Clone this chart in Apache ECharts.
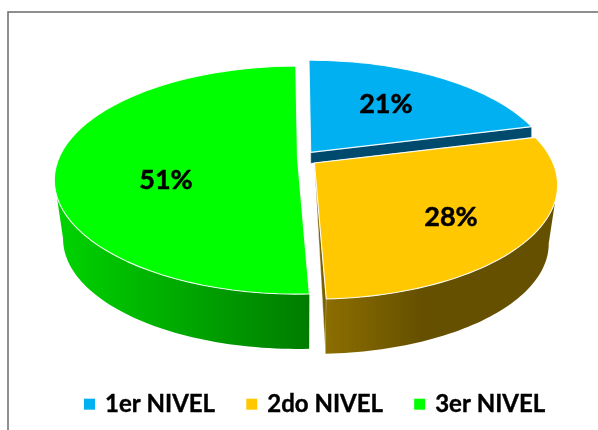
<!DOCTYPE html>
<html><head><meta charset="utf-8">
<style>html,body{margin:0;padding:0;background:#fff}#c{width:598px;height:430px}</style>
<script src="https://cdn.jsdelivr.net/npm/echarts@6/dist/echarts.min.js"></script>
</head><body><div id="c"></div>
<script>
const categories = ['1er NIVEL', '2do NIVEL', '3er NIVEL'];
const values = [21.2, 28.3, 50.5];
const topColors = ['#00b0f0', '#ffc800', '#00ff00'];

// layout of the tilted disc
const CX = 304, CY = 158, A = 238.6, B = 109.8, K = 0.193, DEPTH = 59.5, SHRINK = 0.965, ROT = -0.5;
const TOP_WINDOW = [109, 251], BOTTOM_WINDOW = [101, 259];
const explode = [11, 13, 6.5];
const labelR = [0.56, 0.66, 0.55];
const labelDy = [-3, 7, 21];
const cutColors = ['#004a6e', '#7a6000', null];
const cutDepth = [11, 0, 0];
const wallStops = [
  [[0, '#006a9a'], [1, '#004a6e']],
  [[0, '#8c6e00'], [0.42, '#655000'], [1, '#655000']],
  [[0, '#00d400'], [1, '#007c00']]
];

const total = values.reduce((a, b) => a + b, 0);
function proj(tDeg, r) {
  const t = tDeg * Math.PI / 180, u = Math.sin(t) * r, v = -Math.cos(t) * r, w = 1 - K * v;
  return [A * u / w, B * v / w];
}
function sliceAngles(i) {
  const before = values.slice(0, i).reduce((a, b) => a + b, 0);
  return [ROT + before / total * 360, ROT + (before + values[i]) / total * 360];
}
function arc(fn, a, b) {
  const out = [], n = 60;
  if (b <= a) return out;
  for (let s = 0; s <= n; s++) out.push(fn(a + (b - a) * s / n, 1));
  return out;
}
function renderSlice(i) {
  const [t0, t1] = sliceAngles(i), mid = (t0 + t1) / 2 * Math.PI / 180;
  const ax = CX + explode[i] * Math.sin(mid), ay = CY - explode[i] * 0.65 * Math.cos(mid);
  const bx = CX + (ax - CX) * SHRINK, by = ay + DEPTH;
  const topPt = (t, r) => { const p = proj(t, r); return [ax + p[0], ay + p[1]]; };
  const botPt = (t, r) => { const p = proj(t, r); return [bx + p[0] * SHRINK, by + p[1] * SHRINK]; };
  const poly = (points, style) => ({ type: 'polygon', shape: { points }, style, silent: true });
  const children = [];
  if (cutColors[i]) {
    const end = topPt(t1, 1);
    const pts = cutDepth[i]
      ? [[ax, ay], end, [end[0], end[1] + cutDepth[i]], [ax, ay + cutDepth[i]]]
      : [[ax, ay], end, botPt(t1, 1)];
    children.push(poly(pts, { fill: cutColors[i], stroke: 'rgba(255,255,255,0.7)', lineWidth: 0.6 }));
  }
  const wallTop = arc(topPt, Math.max(t0, TOP_WINDOW[0]), Math.min(t1, TOP_WINDOW[1]));
  const wallBot = arc(botPt, Math.max(t0, BOTTOM_WINDOW[0]), Math.min(t1, BOTTOM_WINDOW[1]));
  if (wallTop.length) {
    children.push(poly(wallTop.concat(wallBot.reverse()), {
      fill: new echarts.graphic.LinearGradient(0, 0, 1, 0, wallStops[i].map(s => ({ offset: s[0], color: s[1] })))
    }));
  }
  children.push(poly([[ax, ay]].concat(arc(topPt, t0, t1)), {
    fill: topColors[i], stroke: 'rgba(255,255,255,0.9)', lineWidth: 1.1, lineJoin: 'round'
  }));
  const lp = topPt((t0 + t1) / 2, labelR[i]);
  children.push({
    type: 'text', silent: true,
    style: {
      x: lp[0], y: lp[1] + labelDy[i], text: Math.round(values[i]) + '%', align: 'center', verticalAlign: 'middle',
      font: 'bold 27px Lato', fill: '#000', stroke: '#000', lineWidth: 0.5
    }
  });
  return { type: 'group', children };
}

// draw order: green at the back, then blue, then yellow on top of blue's cut
const zOrder = [1, 2, 0];
const chart = echarts.init(document.getElementById('c'), null, { renderer: 'canvas' });
chart.setOption({
  animation: false,
  backgroundColor: '#fff',
  legend: {
    data: categories, left: 79, top: 387, itemWidth: 11, itemHeight: 11, itemGap: 31, icon: 'rect',
    selectedMode: false,
    textStyle: { fontFamily: 'Lato', fontSize: 24, fontWeight: 'bold', color: '#000', padding: [0, 0, 0, 5], textBorderColor: '#000', textBorderWidth: 0.4 }
  },
  graphic: [
    { type: 'polyline', silent: true, shape: { points: [[8, 430], [8, 12], [598, 12]] }, style: { stroke: '#6b6b6b', lineWidth: 1.5, fill: null } }
  ],
  series: categories.map((name, i) => ({
    type: 'custom', name, coordinateSystem: 'none', z: zOrder[i] + 2, silent: true,
    itemStyle: { color: topColors[i] },
    data: [[values[i]]],
    renderItem: () => renderSlice(i)
  }))
});
</script></body></html>
